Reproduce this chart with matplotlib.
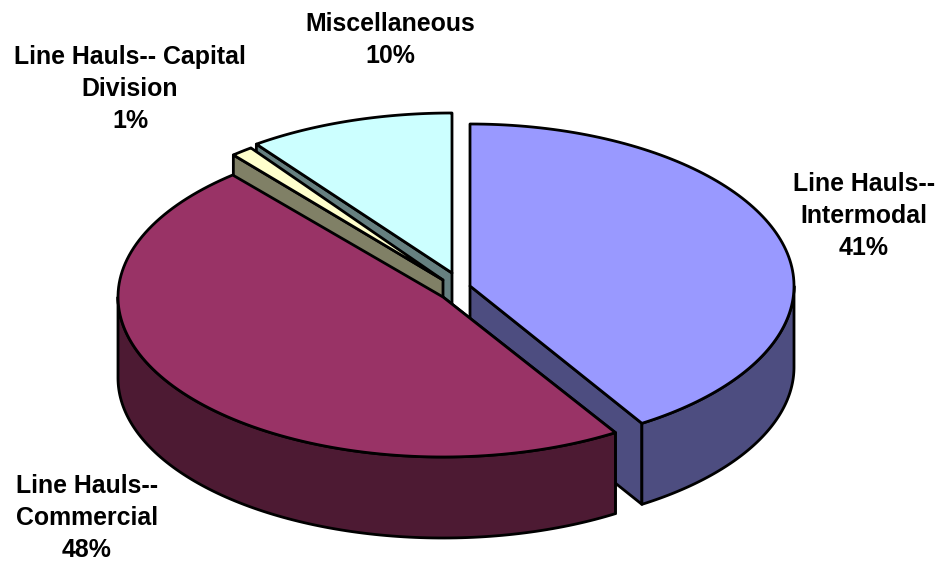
import numpy as np
import matplotlib.pyplot as plt
from matplotlib.patches import Polygon

plt.rcParams['font.family'] = ['Liberation Sans', 'DejaVu Sans']

labels = ['Line Hauls--\nIntermodal', 'Line Hauls--\nCommercial',
          'Line Hauls-- Capital\nDivision', 'Miscellaneous']
values = [41.1, 47.7, 1.1, 10.1]
top_colors = ['#9999FF', '#993366', '#FFFFCC', '#CCFFFF']
side_colors = ['#4D4D80', '#4D1A33', '#808066', '#668080']

# exploded wedges, so each one has its own centre and radii (in pixels)
centers = [(470, 286), (443, 297), (443, 280), (452, 273)]
radii = [(324, 162), (325, 160), (324, 164), (330, 160)]
label_pos = [(864, 216), (87, 518), (130, 89), (390, 40)]
draw_order = [3, 2, 0, 1]
depth = 81
lw = 2.0


def rim(i, t0, t1):
    t = np.radians(np.linspace(t0, t1, 120))
    cx, cy = centers[i]
    a, b = radii[i]
    return np.column_stack([cx + a * np.sin(t), cy - b * np.cos(t)])


fig = plt.figure(figsize=(9.43, 5.66), dpi=100)
ax = fig.add_axes([0, 0, 1, 1])
ax.set_xlim(0, 943)
ax.set_ylim(566, 0)
ax.axis('off')

edges = np.concatenate([[0], np.cumsum(values)]) * 3.6
down = np.array([0, depth])

for i in draw_order:
    t0, t1 = edges[i], edges[i + 1]
    apex = np.array(centers[i], dtype=float)
    style = dict(edgecolor='black', linewidth=lw, joinstyle='round')

    # cut face that looks at the viewer: far edge for the first wedge, near edge for the rest
    corner = rim(i, t1, t1)[0] if i == 0 else rim(i, t0, t0)[0]
    face = np.array([apex, corner, corner + down, apex + down])
    ax.add_patch(Polygon(face, closed=True, facecolor=side_colors[i], **style))

    # outer wall, only the front half of the ellipse
    lo, hi = max(t0, 90), min(t1, 270)
    if lo < hi:
        arc = rim(i, lo, hi)
        wall = np.vstack([arc, arc[::-1] + down])
        ax.add_patch(Polygon(wall, closed=True, facecolor=side_colors[i], **style))

    top = np.vstack([apex, rim(i, t0, t1)])
    ax.add_patch(Polygon(top, closed=True, facecolor=top_colors[i], **style))

for name, val, (x, y) in zip(labels, values, label_pos):
    ax.text(x, y, '%s\n%.0f%%' % (name, val), ha='center', va='center',
            fontsize=17.9, fontweight='bold', linespacing=1.42, color='black')

fig.savefig('out.png', dpi=100)
